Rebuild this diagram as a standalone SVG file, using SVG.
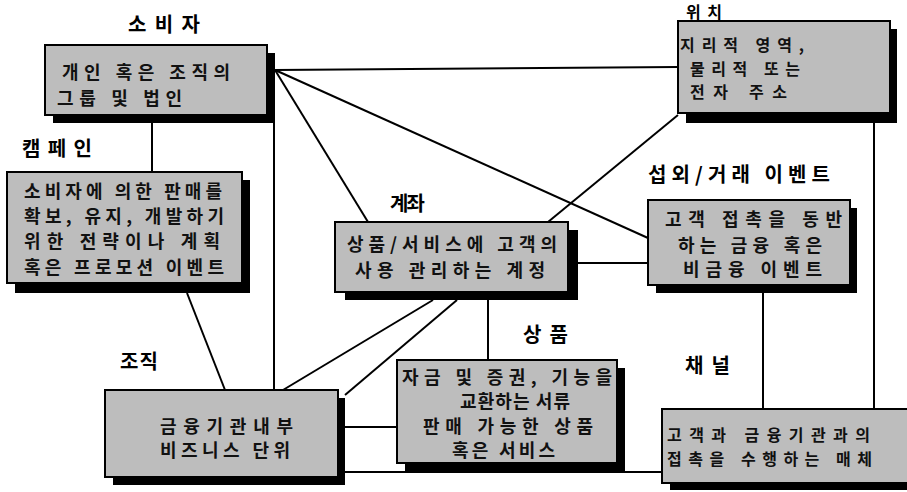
<svg xmlns="http://www.w3.org/2000/svg" width="907" height="492" viewBox="0 0 907 492">
<style>
.bg{fill:#ffffff}
.shadow{fill:#000000}
.box{fill:#bdbdbd;stroke:#000000;stroke-width:2}
.title{font-family:"Noto Sans CJK KR","Noto Sans",sans-serif;font-size:20px;font-weight:bold;fill:#000000}
.txt{font-family:"Noto Sans CJK KR","Noto Sans",sans-serif;font-size:18px;font-weight:bold;fill:#111111}
.sm{font-size:16px}
.conn line,.conn path{stroke:#000000;stroke-width:2;fill:none}
</style>
<rect class="bg" x="0" y="0" width="907" height="492"/>
<g id="connectors" class="conn">
<line x1="152" y1="115" x2="152" y2="172"/>
<line x1="275" y1="70" x2="678" y2="67"/>
<line x1="275" y1="70" x2="648" y2="238"/>
<line x1="275" y1="70" x2="368" y2="222"/>
<line x1="274" y1="115" x2="274" y2="390"/>
<line x1="187" y1="293" x2="225" y2="390"/>
<line x1="433" y1="300" x2="283" y2="390"/>
<line x1="457" y1="300" x2="345" y2="395"/>
<line x1="488" y1="300" x2="488" y2="360"/>
<line x1="578" y1="263" x2="648" y2="263"/>
<line x1="548" y1="222" x2="678" y2="115"/>
<line x1="763" y1="293" x2="763" y2="409"/>
<line x1="874" y1="123" x2="874" y2="409"/>
<line x1="345" y1="427" x2="397" y2="427"/>
<line x1="345" y1="472" x2="662" y2="472"/>
</g>
<g id="consumer">
<text class="title" x="128" y="32" textLength="72">소비자</text>
<rect class="shadow" x="53" y="53" width="222" height="70"/>
<rect class="box" x="45" y="45" width="222" height="70"/>
<text class="txt" x="62" y="79" textLength="168">개인 혹은 조직의</text>
<text class="txt" x="57" y="105" textLength="125">그룹 및 법인</text>
</g>
<g id="campaign">
<text class="title" x="22" y="156" textLength="70">캠페인</text>
<rect class="shadow" x="15" y="180" width="235" height="113"/>
<rect class="box" x="7" y="172" width="235" height="111"/>
<text class="txt" x="24" y="198" textLength="198">소비자에 의한 판매를</text>
<text class="txt" x="24" y="223" textLength="200">확보, 유지, 개발하기</text>
<text class="txt" x="24" y="248" textLength="196">위한 전략이나 계획</text>
<text class="txt" x="24" y="274" textLength="200">혹은 프로모션 이벤트</text>
</g>
<g id="account">
<text class="title" x="390" y="211" textLength="35">계좌</text>
<rect class="shadow" x="345" y="230" width="233" height="70"/>
<rect class="box" x="335" y="222" width="233" height="70"/>
<text class="txt" x="347" y="251" textLength="210">상품/서비스에 고객의</text>
<text class="txt" x="355" y="277" textLength="190">사용 관리하는 계정</text>
</g>
<g id="location">
<text class="title" x="686" y="18" textLength="36" style="font-size:16px">위치</text>
<rect class="shadow" x="686" y="29" width="211" height="94"/>
<rect class="box" x="678" y="21" width="212" height="92"/>
<text class="txt sm" x="680" y="51" textLength="124">지리적 영역,</text>
<text class="txt sm" x="690" y="75" textLength="110">물리적 또는</text>
<text class="txt sm" x="690" y="98" textLength="97">전자 주소</text>
</g>
<g id="event">
<text class="title" x="648" y="182" textLength="182">섭외/거래 이벤트</text>
<rect class="shadow" x="656" y="208" width="201" height="85"/>
<rect class="box" x="648" y="200" width="202" height="85"/>
<text class="txt" x="665" y="226" textLength="177">고객 접촉을 동반</text>
<text class="txt" x="678" y="252" textLength="144">하는 금융 혹은</text>
<text class="txt" x="683" y="276" textLength="139">비금융 이벤트</text>
</g>
<g id="product">
<text class="title" x="523" y="342" textLength="45">상품</text>
<rect class="shadow" x="405" y="368" width="220" height="104"/>
<rect class="box" x="397" y="360" width="220" height="103"/>
<text class="txt" x="402" y="384" textLength="210">자금 및 증권, 기능을</text>
<text class="txt" x="460" y="408" textLength="110">교환하는 서류</text>
<text class="txt" x="423" y="433" textLength="170">판매 가능한 상품</text>
<text class="txt" x="452" y="457" textLength="103">혹은 서비스</text>
</g>
<g id="organization">
<text class="title" x="120" y="369" textLength="38">조직</text>
<rect class="shadow" x="113" y="398" width="232" height="87"/>
<rect class="box" x="105" y="390" width="233" height="87"/>
<text class="txt" x="160" y="433" textLength="133">금융기관내부</text>
<text class="txt" x="160" y="457" textLength="130">비즈니스 단위</text>
</g>
<g id="channel">
<text class="title" x="685" y="373" textLength="45">채널</text>
<rect class="shadow" x="670" y="417" width="250" height="73"/>
<rect class="box" x="662" y="409" width="250" height="74"/>
<text class="txt sm" x="667" y="441" textLength="203">고객과 금융기관과의</text>
<text class="txt sm" x="667" y="465" textLength="205">접촉을 수행하는 매체</text>
</g>
</svg>
